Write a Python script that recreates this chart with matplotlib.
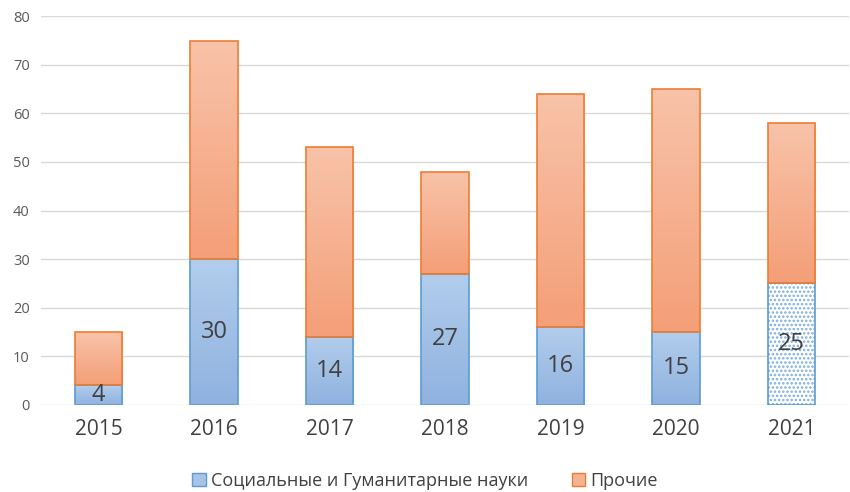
import numpy as np
import matplotlib
matplotlib.use("Agg")
import matplotlib.pyplot as plt
from matplotlib.patches import Patch

plt.rcParams['font.family'] = ['Open Sans', 'DejaVu Sans']
plt.rcParams['hatch.linewidth'] = 1.2

years = ['2015', '2016', '2017', '2018', '2019', '2020', '2021']
social = [4, 30, 14, 27, 16, 15, 25]
other = [11, 45, 39, 21, 48, 50, 33]
legend_labels = ['Социальные и Гуманитарные науки', 'Прочие']

blue_edge = '#5b9bd5'
orange_edge = '#ed7d31'


def gradient_fill(ax, bar, top_color, bottom_color):
    x0, y0 = bar.get_x(), bar.get_y()
    w, h = bar.get_width(), bar.get_height()
    c1 = np.array(matplotlib.colors.to_rgb(top_color))
    c2 = np.array(matplotlib.colors.to_rgb(bottom_color))
    t = np.linspace(0, 1, 64)[:, None]
    img = (c1 * (1 - t) + c2 * t)[:, None, :]
    im = ax.imshow(img, extent=[x0, x0 + w, y0, y0 + h], aspect='auto',
                   zorder=bar.get_zorder() - 0.1, origin='upper')
    im.set_clip_path(bar)


fig = plt.figure(figsize=(8.5, 4.92), dpi=100)
ax = fig.add_axes([0.048, 0.177, 0.951, 0.79])

x = np.arange(len(years))
bw = 0.41
bars_s = ax.bar(x, social, bw, facecolor='none', edgecolor=blue_edge, linewidth=1.2, zorder=3)
bars_o = ax.bar(x, other, bw, bottom=social, facecolor='none', edgecolor=orange_edge,
                linewidth=1.2, zorder=3)

for i, b in enumerate(bars_s):
    if i == len(bars_s) - 1:
        b.set_facecolor('white')
        b.set_hatch('....')
        b._hatch_color = matplotlib.colors.to_rgba('#7aaee0')
    else:
        gradient_fill(ax, b, '#b2cdec', '#8fb2df')
for b in bars_o:
    gradient_fill(ax, b, '#f8c3a9', '#f49f78')

for i, b in enumerate(bars_s):
    ax.text(b.get_x() + bw / 2, social[i] / 2, str(social[i]), ha='center', va='center',
            fontsize=17, color='#404040', zorder=5)

ax.set_xlim(-0.5, len(years) - 0.5)
ax.set_ylim(0, 80)
ax.set_yticks(range(0, 81, 10))
ax.set_xticks(x)
ax.set_xticklabels(years, fontsize=15, color='#404040')
ax.tick_params(axis='y', labelsize=10.5, colors='#595959', length=0, pad=8)
ax.tick_params(axis='x', length=0, pad=10)
ax.grid(axis='y', color='#d9d9d9', linewidth=1)
ax.set_axisbelow(True)
for s in ax.spines.values():
    s.set_visible(False)

handles = [Patch(facecolor='#a7c3e8', edgecolor=blue_edge),
           Patch(facecolor='#f6b394', edgecolor=orange_edge)]
fig.legend(handles, legend_labels, loc='center', bbox_to_anchor=(0.5, 0.022),
           ncol=2, frameon=False, fontsize=13, handlelength=0.75, handleheight=0.75,
           columnspacing=2.4, handletextpad=0.3, labelcolor='#404040')

fig.savefig('out.png', dpi=100)
